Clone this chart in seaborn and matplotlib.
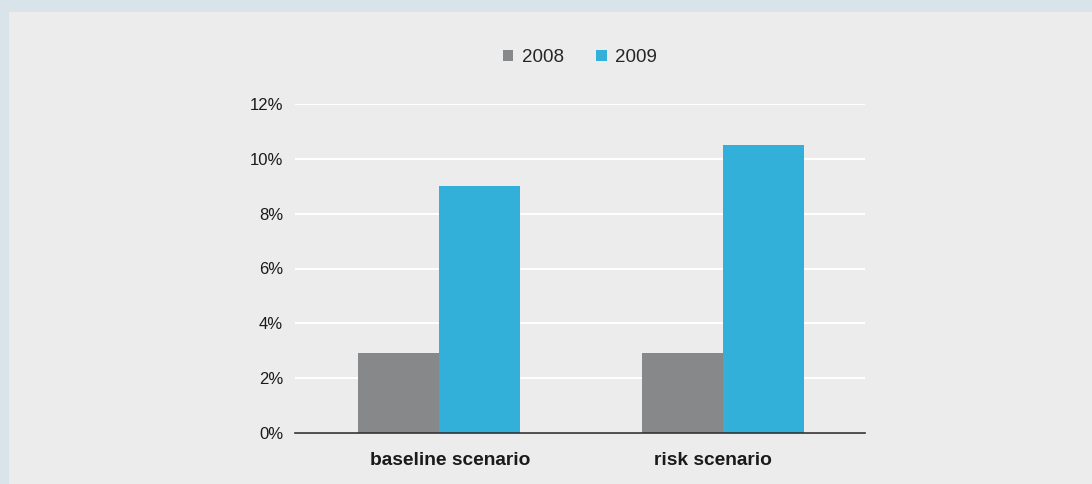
import pandas as pd
import seaborn as sns
import matplotlib.pyplot as plt
import matplotlib.transforms as mtransforms
from matplotlib.patches import Rectangle
from matplotlib.ticker import FuncFormatter

scenarios = ["baseline scenario", "risk scenario"]
years = ["2008", "2009"]
vals_2008 = [2.9, 2.9]
vals_2009 = [9.0, 10.5]

df = pd.DataFrame({
    "scenario": scenarios * 2,
    "year": [years[0]] * 2 + [years[1]] * 2,
    "value": vals_2008 + vals_2009,
})

sns.set_style("white")
plt.rcParams["font.family"] = ["Liberation Sans", "DejaVu Sans"]

fig = plt.figure(figsize=(10.92, 4.84), dpi=100, facecolor="#d9e3ea")
fig.patches.append(Rectangle((9 / 1092, 0), 1, 1 - 12 / 484, transform=fig.transFigure,
                             facecolor="#ebeceb", edgecolor="none", zorder=-10))
ax = fig.add_axes([295 / 1092, 51 / 484, 570 / 1092, 329 / 484])
ax.set_facecolor("#ebeceb")

sns.barplot(data=df, x="scenario", y="value", hue="year", ax=ax,
            palette=["#878889", "#33b0d9"], width=0.57, gap=0, saturation=1,
            edgecolor="none", linewidth=0, zorder=3)

ax.set_ylim(0, 12)
ax.set_xlim(-0.507, 1.5)
ax.set_yticks(range(0, 13, 2))
ax.yaxis.set_major_formatter(FuncFormatter(lambda v, p: f"{v:.0f}%"))
ax.grid(axis="y", color="white", lw=1.5, zorder=1)
ax.set_axisbelow(True)
for s in ["top", "right", "left"]:
    ax.spines[s].set_visible(False)
ax.spines["bottom"].set_color("#333333")
ax.spines["bottom"].set_linewidth(1.2)
ax.spines["bottom"].set_zorder(4)
ax.tick_params(axis="both", length=0, colors="#1a1a1a")
ax.tick_params(axis="y", pad=8.5, labelsize=12)
ax.tick_params(axis="x", pad=14, labelsize=13.8)
# labels in the original sit a little off the bar-group centres
for t, dx in zip(ax.get_xticklabels(), [11, -10]):
    t.set_fontweight("bold")
    t.set_transform(t.get_transform() + mtransforms.ScaledTranslation(dx / 100, 0, fig.dpi_scale_trans))
ax.set_xlabel("")
ax.set_ylabel("")

ax.legend(loc="center", bbox_to_anchor=(0.5, 1.142), ncol=2, frameon=False,
          fontsize=13.5, handlelength=0.55, handleheight=0.55, handletextpad=0.45,
          columnspacing=1.75)

plt.savefig("out.png", dpi=100, facecolor=fig.get_facecolor())
